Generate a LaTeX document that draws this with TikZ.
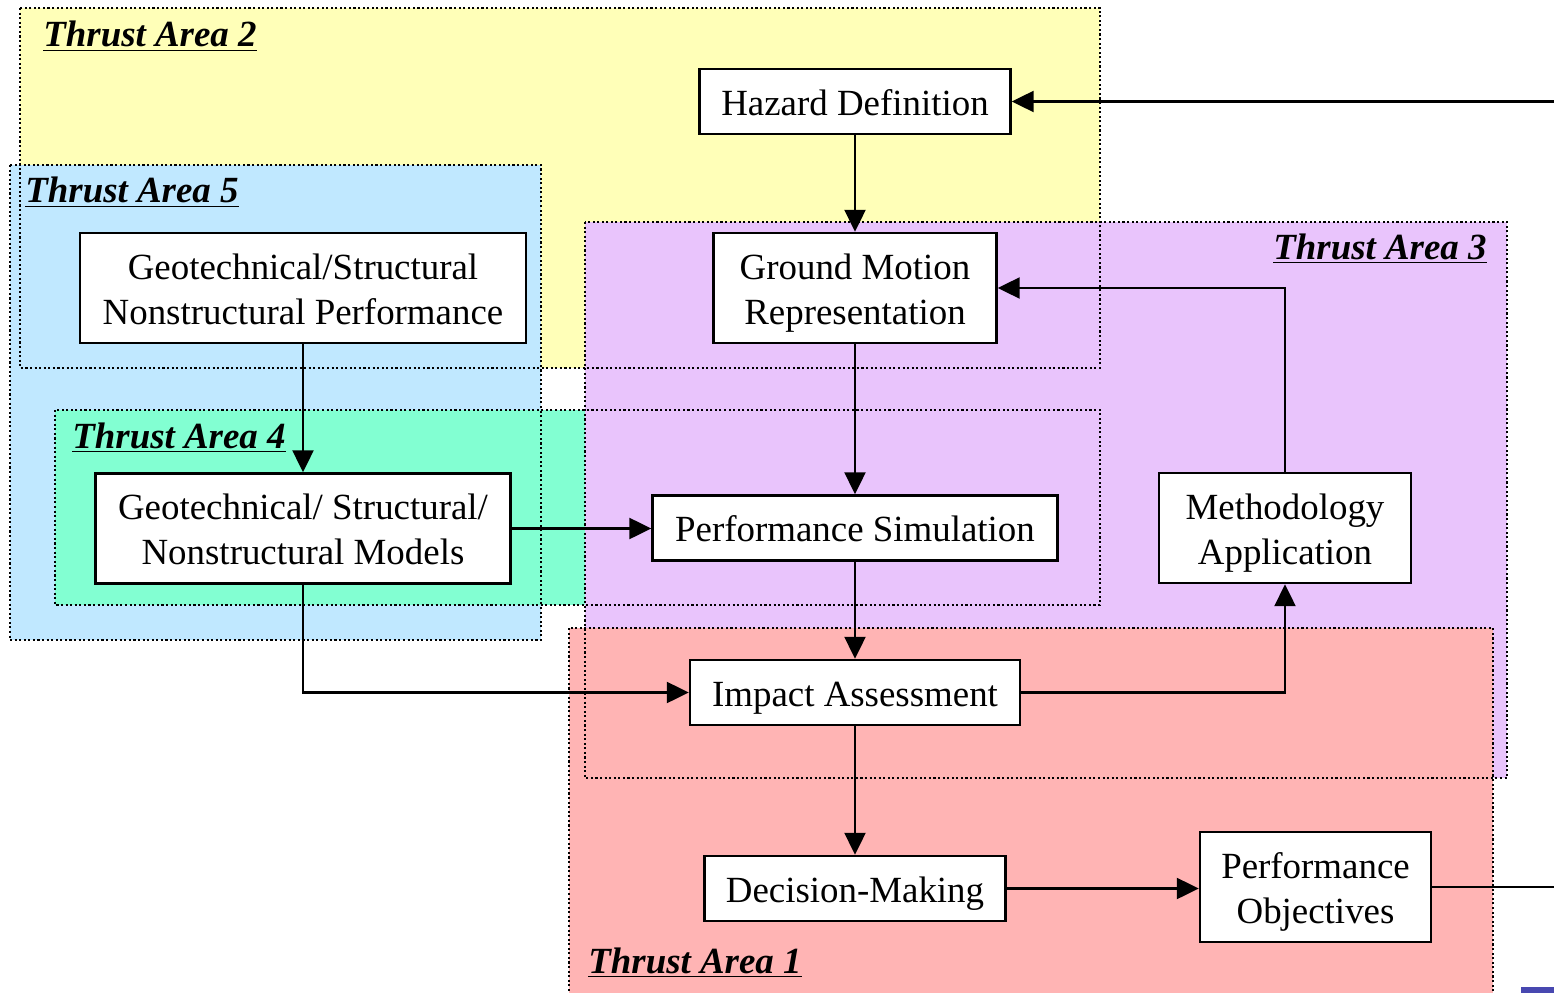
\documentclass[tikz,border=0pt]{standalone}
\usepackage{fontspec}
\setmainfont{Liberation Serif}
\usetikzlibrary{arrows.meta}

\definecolor{areayellow}{HTML}{FFFFB8}
\definecolor{areablue}{HTML}{C0E8FF}
\definecolor{areagreen}{HTML}{82FFD2}
\definecolor{areapurple}{HTML}{E9C4FC}
\definecolor{areared}{HTML}{FFB4B4}
\definecolor{cornerblue}{HTML}{4848B0}

% struts so that every box line sits the same way
\newcommand\boxtop{\rule{0pt}{20pt}}
\newcommand\boxbot{\rule[-4.6pt]{0pt}{4.6pt}}

\tikzset{
  box/.style={draw, line width=1.4pt, fill=white, align=center, inner sep=0pt,
    font=\fontsize{21}{25.6}\selectfont},
  arealine/.style={line width=1.2pt, dash pattern=on 1.2pt off 1.4pt},
  arealabel/.style={anchor=base west, inner sep=0pt,
    font=\fontsize{21}{25}\selectfont\bfseries\itshape},
  flow/.style={line width=1.3pt, -{Triangle[length=0.44cm,width=0.42cm]}},
  plain/.style={line width=1.3pt},
}

\begin{document}
\begin{tikzpicture}[x=0.02cm, y=-0.02cm]
    \useasboundingbox (0,0) rectangle (1554,993);
    \clip (0,0) rectangle (1554,993);

    % thrust areas, fills first
    \fill[areayellow] (20,8) rectangle (1100,368);
    \fill[areablue] (10,165) rectangle (541,640);
    \fill[areagreen] (55,410) rectangle (1100,605);
    \fill[areapurple] (585,222) rectangle (1507,778);
    \fill[areared] (569,628) rectangle (1493,1010);
    \fill[cornerblue] (1521,987) rectangle (1560,1000);

    % then the dotted borders
    \draw[arealine] (20,8) rectangle (1100,368);
    \draw[arealine] (10,165) rectangle (541,640);
    \draw[arealine] (55,410) rectangle (1100,605);
    \draw[arealine] (585,222) rectangle (1507,778);
    \draw[arealine] (569,628) rectangle (1493,1010);

    \node[arealabel] (ta2) at (43,47) {\underline{Thrust Area 2}};
    \node[arealabel] (ta5) at (25,203) {\underline{Thrust Area 5}};
    \node[arealabel] (ta4) at (72,448) {\underline{Thrust Area 4}};
    \node[arealabel] (ta3) at (1273,259) {\underline{Thrust Area 3}};
    \node[arealabel] (ta1) at (588,973) {\underline{Thrust Area 1}};

    % boxes
    \node[box, minimum width=6.22cm, minimum height=1.3cm] (hazard) at (855,101.5) {\boxtop Hazard Definition\boxbot};
    \node[box, minimum width=5.66cm, minimum height=2.2cm] (ground) at (855,288) {\boxtop Ground Motion\\Representation\boxbot};
    \node[box, minimum width=8.92cm, minimum height=2.2cm] (geoperf) at (303,288) {\boxtop Geotechnical/Structural\\Nonstructural Performance\boxbot};
    \node[box, minimum width=8.3cm, minimum height=2.2cm] (models) at (303,528.5) {\boxtop Geotechnical/ Structural/\\Nonstructural Models\boxbot};
    \node[box, minimum width=8.1cm, minimum height=1.3cm] (sim) at (855,528) {\boxtop Performance Simulation\boxbot};
    \node[box, minimum width=5.04cm, minimum height=2.2cm] (method) at (1285,528) {\boxtop Methodology\\Application\boxbot};
    \node[box, minimum width=6.6cm, minimum height=1.3cm] (impact) at (855,692.5) {\boxtop Impact Assessment\boxbot};
    \node[box, minimum width=6.02cm, minimum height=1.3cm] (decision) at (855,888.5) {\boxtop Decision-Making\boxbot};
    \node[box, minimum width=4.62cm, minimum height=2.2cm] (objectives) at (1315.5,887) {\boxtop Performance\\Objectives\boxbot};

    \coordinate (inlet) at (1554,101.5);
    \coordinate (outlet) at (1554,887);

    % connectors
    \draw[flow] (inlet) -- (hazard.east);
    \draw[flow] (hazard) -- (ground);
    \draw[flow] (ground) -- (sim);
    \draw[flow] (sim) -- (impact);
    \draw[flow] (impact) -- (decision);
    \draw[flow] (decision) -- (decision -| objectives.west);
    \draw[plain] (objectives) -- (outlet);
    \draw[flow] (geoperf) -- (models);
    \draw[flow] (models) -- (models -| sim.west);
    \draw[flow] (models.south) |- (impact.west);
    \draw[flow] (impact.east) -| (method.south);
    \draw[flow] (method.north) |- (ground.east);
\end{tikzpicture}
\end{document}
